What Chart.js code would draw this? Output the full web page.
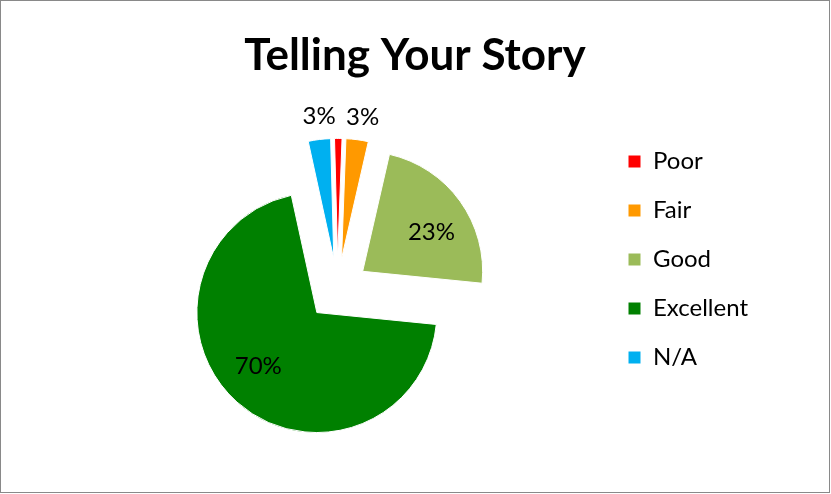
<!DOCTYPE html>
<html>
<head>
<meta charset="utf-8">
<title>Telling Your Story</title>
<script src="https://cdn.jsdelivr.net/npm/chart.js@4"></script>
<style>
  html, body { margin: 0; padding: 0; background: #fff; }
  #frame {
    position: absolute; left: 0; top: 0;
    width: 830px; height: 493px;
    box-sizing: border-box;
    border: 1px solid #898989;
    background: #fff;
  }
  canvas { display: block; }
</style>
</head>
<body>
<div id="frame"><canvas id="chart" width="828" height="491"></canvas></div>
<script>
// Survey answers, share of respondents in percent
const categories = ['Poor', 'Fair', 'Good', 'Excellent', 'N/A'];
const percentages = [1, 3, 23, 70, 3];
const showValueLabel = [false, true, true, true, true];
const sliceColors = ['#FF0000', '#FF9900', '#9BBB59', '#008000', '#00B0F0'];
const chartTitle = 'Telling Your Story';

const FONT = "Lato, 'Open Sans', sans-serif";
const CANVAS_WIDTH = 828;
const LEGEND_FONT = 24;
const LEGEND_BOX = 13;
const LEGEND_PAD = 25;
const LEGEND_BOX_X = 627;

// Equal side padding keeps the title centred; it is sized so that the
// legend swatches land at LEGEND_BOX_X (legend width = pad + item + 10).
const measureCtx = document.createElement('canvas').getContext('2d');
measureCtx.font = LEGEND_FONT + 'px ' + FONT;
const widestLabel = Math.max(...categories.map(c => measureCtx.measureText(c).width));
const sidePad = CANVAS_WIDTH - LEGEND_BOX_X - 10 - (LEGEND_BOX + LEGEND_FONT / 2 + widestLabel);

// Draws every slice pushed out from the centre along its bisector
const explodedPie = {
  id: 'explodedPie',
  beforeDatasetDraw(chart, args, opts) {
    const ctx = chart.ctx;
    args.meta.data.forEach(arc => {
      const mid = (arc.startAngle + arc.endAngle) / 2;
      ctx.save();
      ctx.translate(Math.cos(mid) * opts.distance, Math.sin(mid) * opts.distance);
      arc.draw(ctx);
      ctx.restore();
    });
    return false;
  }
};

// Percentage labels: inside large slices, just outside the thin ones
const sliceLabels = {
  id: 'sliceLabels',
  afterDatasetsDraw(chart, args, opts) {
    const ctx = chart.ctx;
    const meta = chart.getDatasetMeta(0);
    const values = chart.data.datasets[0].data;
    const total = values.reduce((a, b) => a + b, 0);
    const explode = chart.options.plugins.explodedPie.distance;
    ctx.save();
    ctx.font = opts.size + 'px ' + FONT;
    ctx.fillStyle = opts.color;
    ctx.textAlign = 'center';
    ctx.textBaseline = 'middle';
    meta.data.forEach((arc, i) => {
      if (!showValueLabel[i]) return;
      const share = values[i] / total;
      const mid = (arc.startAngle + arc.endAngle) / 2;
      const place = share < opts.outsideBelow ? opts.outside : opts.inside;
      const a = mid + place.turn * Math.PI / 180;
      const r = arc.outerRadius * place.radius;
      const x = arc.x + Math.cos(mid) * explode + Math.cos(a) * r;
      const y = arc.y + Math.sin(mid) * explode + Math.sin(a) * r;
      ctx.fillText(Math.round(share * 100) + '%', x, y);
    });
    ctx.restore();
  }
};

new Chart(document.getElementById('chart'), {
  type: 'pie',
  data: {
    labels: categories,
    datasets: [{
      data: percentages,
      backgroundColor: sliceColors,
      borderColor: '#FFFFFF',
      borderWidth: 1
    }]
  },
  plugins: [explodedPie, sliceLabels],
  options: {
    responsive: false,
    animation: false,
    events: [],
    rotation: -1.5,
    radius: 120,
    layout: { padding: { left: sidePad, right: sidePad, top: 0, bottom: 37.7 } },
    plugins: {
      title: {
        display: true,
        text: chartTitle,
        color: '#000',
        font: { family: FONT, size: 44, weight: 'bold', lineHeight: 1.2 },
        padding: { top: 28, bottom: 42.7 }
      },
      legend: {
        position: 'right',
        align: 'start',
        fullSize: false,
        labels: {
          boxWidth: LEGEND_BOX,
          boxHeight: LEGEND_BOX,
          padding: LEGEND_PAD,
          color: '#000',
          font: { family: FONT, size: LEGEND_FONT }
        }
      },
      tooltip: { enabled: false },
      explodedPie: { distance: 31 },
      sliceLabels: {
        size: 24,
        color: '#000',
        outsideBelow: 0.05,
        inside: { radius: 0.66, turn: 6 },
        outside: { radius: 1.19, turn: 1.0 }
      }
    }
  }
});
</script>
</body>
</html>
